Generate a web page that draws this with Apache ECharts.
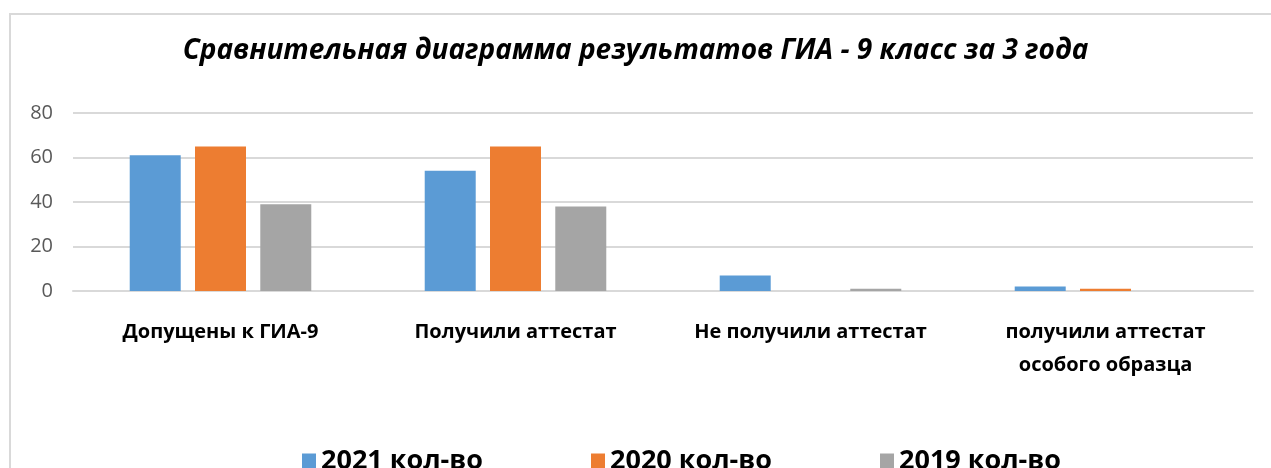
<!DOCTYPE html>
<html lang="ru">

<head>
    <meta charset="UTF-8">
    <title>ГИА - 9 класс</title>
    <style>
        html,
        body,
        .container {
            height: 100%;
            margin: 0;
        }
    </style>
</head>

<body>
    <div id="container" class="container"></div>
    <script src="https://cdn.jsdelivr.net/npm/echarts@6/dist/echarts.min.js"></script>
    <script>
        var categories = ['Допущены к ГИА-9', 'Получили аттестат', 'Не получили аттестат', 'получили аттестат\nособого образца'];
        var years = ['2021 кол-во', '2020 кол-во', '2019 кол-во'];
        var data2021 = [61, 54, 7, 2];
        var data2020 = [65, 65, 0, 1];
        var data2019 = [39, 38, 1, 0];
        var yTicks = [0, 20, 40, 60, 80];

        var dom = document.getElementById("container");
        var myChart = echarts.init(dom);
        var font = 'Open Sans';

        var option = {
            animation: false,
            color: ['#5b9bd5', '#ed7d31', '#a5a5a5'],
            graphic: [{
                type: 'rect',
                shape: { x: 10, y: 14, width: 1300, height: 500 },
                style: { fill: 'none', stroke: '#d9d9d9', lineWidth: 2 },
                z: -1
            }],
            title: {
                text: 'Сравнительная диаграмма результатов ГИА - 9 класс за 3 года',
                left: 'center',
                top: 32,
                textStyle: {
                    fontFamily: font,
                    fontSize: 28,
                    fontWeight: 'bold',
                    fontStyle: 'italic',
                    color: '#000'
                }
            },
            legend: {
                data: years,
                left: 297,
                top: 443,
                icon: 'rect',
                itemWidth: 14,
                itemHeight: 16,
                itemGap: 108,
                textStyle: {
                    fontFamily: font,
                    fontSize: 27,
                    fontWeight: 'bold',
                    color: '#000'
                }
            },
            grid: {
                left: 73,
                right: 18,
                top: 113,
                bottom: 177
            },
            xAxis: {
                type: 'category',
                data: categories,
                axisTick: { show: false },
                axisLine: { lineStyle: { color: '#d9d9d9', width: 2 } },
                axisLabel: {
                    interval: 0,
                    margin: 25,
                    fontFamily: font,
                    fontSize: 20,
                    fontWeight: 'bold',
                    color: '#000',
                    lineHeight: 33
                }
            },
            yAxis: {
                type: 'value',
                min: yTicks[0],
                max: yTicks[yTicks.length - 1],
                interval: 20,
                axisLine: { show: false },
                axisTick: { show: false },
                splitLine: { lineStyle: { color: '#d9d9d9', width: 2 } },
                axisLabel: {
                    margin: 20,
                    fontFamily: font,
                    fontSize: 20,
                    color: '#595959'
                }
            },
            series: [
                { name: years[0], type: 'bar', data: data2021, barWidth: 51, barGap: '28%' },
                { name: years[1], type: 'bar', data: data2020, barWidth: 51, barGap: '28%' },
                { name: years[2], type: 'bar', data: data2019, barWidth: 51, barGap: '28%' }
            ]
        };
        myChart.setOption(option);
    </script>
</body>

</html>
